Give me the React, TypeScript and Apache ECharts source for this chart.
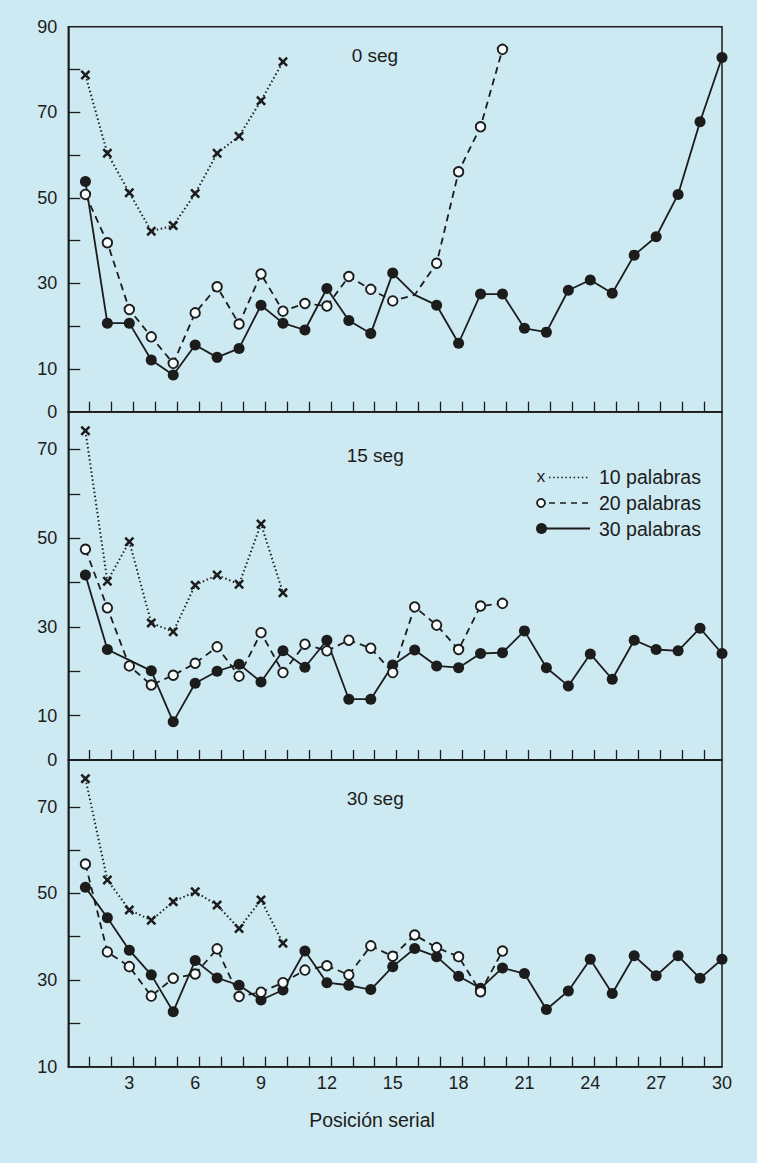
import React, { useEffect, useRef } from "react";
import * as echarts from "echarts";

// ---------- data ----------
const positions = [1, 2, 3, 4, 5, 6, 7, 8, 9, 10, 11, 12, 13, 14, 15, 16, 17, 18, 19, 20, 21, 22, 23, 24, 25, 26, 27, 28, 29, 30];
const xLabelValues = [3, 6, 9, 12, 15, 18, 21, 24, 27, 30];

const panelTitles = ["0 seg", "15 seg", "30 seg"];
const seriesNames = ["10 palabras", "20 palabras", "30 palabras"];
const axisTitle = "Posición serial";

// 0 seg
const seg0Words10 = [78.7, 60.4, 51.2, 42.2, 43.5, 51.0, 60.4, 64.4, 72.7, 81.8];
const seg0Words20 = [50.8, 39.5, 23.9, 17.5, 11.3, 23.1, 29.2, 20.5, 32.2, 23.5, 25.3, 24.7, 31.6, 28.6, 25.9, 27.3, 34.7, 56.1, 66.6, 84.7];
const seg0Words30 = [53.8, 20.7, 20.7, 12.1, 8.6, 15.6, 12.7, 14.8, 24.9, 20.7, 19.1, 28.8, 21.3, 18.3, 32.4, 27.3, 24.9, 16.0, 27.5, 27.5, 19.5, 18.6, 28.4, 30.8, 27.7, 36.6, 40.9, 50.8, 67.8, 82.8];

// 15 seg
const seg15Words10 = [74.2, 40.3, 49.2, 30.9, 28.9, 39.4, 41.7, 39.6, 53.2, 37.7];
const seg15Words20 = [47.5, 34.3, 21.2, 16.9, 19.1, 21.8, 25.5, 18.9, 28.7, 19.7, 26.1, 24.6, 27.0, 25.2, 19.7, 34.5, 30.4, 24.9, 34.7, 35.3];
const seg15Words30 = [41.7, 24.9, 22.5, 20.1, 8.6, 17.3, 20.0, 21.6, 17.6, 24.6, 20.9, 27.0, 13.7, 13.7, 21.4, 24.8, 21.2, 20.8, 24.0, 24.2, 29.1, 20.8, 16.7, 23.9, 18.2, 27.0, 24.9, 24.6, 29.7, 24.0];

// 30 seg
const seg30Words10 = [76.5, 53.1, 46.2, 43.8, 48.1, 50.4, 47.3, 41.9, 48.5, 38.5];
const seg30Words20 = [56.8, 36.5, 33.1, 26.3, 30.4, 31.4, 37.2, 26.2, 27.2, 29.4, 32.3, 33.3, 31.2, 37.9, 35.5, 40.4, 37.5, 35.4, 27.3, 36.7];
const seg30Words30 = [51.4, 44.4, 36.9, 31.2, 22.7, 34.5, 30.5, 28.8, 25.4, 27.7, 36.7, 29.4, 28.8, 27.8, 33.1, 37.3, 35.4, 30.9, 28.1, 32.8, 31.5, 23.2, 27.5, 34.8, 26.9, 35.6, 31.0, 35.6, 30.4, 34.8];

// positions printed without a marker (panel-series)
const unmarkedPositions: Record<string, number[]> = { "0-1": [16], "0-2": [16], "1-2": [3] };

// y axes
const yMin = [0, 0, 10];
const yMax = [90, 78.5, 80.8];
const yTickValues = [
  [10, 20, 30, 40, 50, 60, 70, 80],
  [10, 20, 30, 40, 50, 60, 70],
  [20, 30, 40, 50, 60, 70],
];
const yLabelValues = [
  [0, 10, 30, 50, 70, 90],
  [0, 10, 30, 50, 70],
  [10, 30, 50, 70],
];

const panelData = [
  [seg0Words10, seg0Words20, seg0Words30],
  [seg15Words10, seg15Words20, seg15Words30],
  [seg30Words10, seg30Words20, seg30Words30],
];

// ---------- styling ----------
const INK = "#1c1c1c";
const BG = "#cde9f1";
const FONT = "'Liberation Sans', Arial, Helvetica, sans-serif";
const GRID_LEFT = 68.3;
const GRID_WIDTH = 653.7;
const panelTops = [26.7, 411.7, 760];
const panelBottoms = [411.7, 760, 1066.7];
const X_SYMBOL = "path://M1.8,0L5,3.2L8.2,0L10,1.8L6.8,5L10,8.2L8.2,10L5,6.8L1.8,10L0,8.2L3.2,5L0,1.8Z";

const seriesStyles: any[] = [
  {
    symbol: X_SYMBOL,
    symbolSize: [10, 10],
    itemStyle: { color: INK },
    lineStyle: { color: "#222222", width: 2, type: [1.5, 2.6] },
  },
  {
    symbol: "circle",
    symbolSize: 9.5,
    itemStyle: { color: "#f7fcfd", borderColor: INK, borderWidth: 1.9 },
    lineStyle: { color: INK, width: 1.8, type: [7, 5] },
  },
  {
    symbol: "circle",
    symbolSize: 11,
    itemStyle: { color: INK },
    lineStyle: { color: INK, width: 1.8, type: "solid" },
  },
];

function buildOption() {
  const xTickValues = positions.slice(0, 29).map((p) => p + 0.18);
  const grid = panelTops.map((top, i) => ({
    left: GRID_LEFT,
    top,
    width: GRID_WIDTH,
    height: panelBottoms[i] - top,
    show: true,
    borderColor: INK,
    borderWidth: 1.5,
    backgroundColor: "transparent",
  }));
  const xAxis = panelTops.map((_, i) => ({
    type: "value",
    gridIndex: i,
    min: 0.22,
    max: 30,
    axisLine: { show: true, lineStyle: { color: INK, width: 1.5 } },
    axisTick: { show: true, inside: true, length: 10, customValues: xTickValues, lineStyle: { color: INK, width: 1.3 } },
    axisLabel: {
      show: i === 2,
      customValues: xLabelValues,
      fontSize: 18,
      color: INK,
      fontFamily: FONT,
      margin: 7,
    },
    splitLine: { show: false },
  }));
  const yAxis = panelTops.map((_, i) => ({
    type: "value",
    gridIndex: i,
    min: yMin[i],
    max: yMax[i],
    axisLine: { show: true, lineStyle: { color: INK, width: 1.5 } },
    axisTick: { show: true, inside: true, length: 12, customValues: yTickValues[i], lineStyle: { color: INK, width: 1.3 } },
    axisLabel: {
      customValues: yLabelValues[i],
      fontSize: 18,
      color: INK,
      fontFamily: FONT,
      margin: 11,
    },
    splitLine: { show: false },
  }));

  const series: any[] = [];
  panelData.forEach((sets, panel) => {
    [2, 1, 0].forEach((kind) => {
      const hidden = unmarkedPositions[`${panel}-${kind}`] || [];
      series.push({
        type: "line",
        name: seriesNames[kind],
        xAxisIndex: panel,
        yAxisIndex: panel,
        clip: false,
        z: 2 + (2 - kind),
        data: sets[kind].map((v, idx) => {
          const p = positions[idx];
          return hidden.includes(p) ? { value: [p, v], symbol: "none" } : [p, v];
        }),
        ...seriesStyles[kind],
      });
    });
  });

  const txt = (text: string, x: number, y: number, fontSize: number, align = "left") => ({
    type: "text",
    x,
    y,
    style: { text, fontSize, fontFamily: FONT, fill: INK, align, verticalAlign: "middle" },
  });

  const legendX = 541;
  const legendRows = [477, 503, 528.5];
  const graphic: any[] = [
    txt(panelTitles[0], 351.7, 55, 19),
    txt(panelTitles[1], 346.7, 455, 19),
    txt(panelTitles[2], 346.7, 798.3, 19),
    txt(axisTitle, 372, 1120, 19.5, "center"),
    // legend
    txt("x", legendX, legendRows[0] - 1, 17, "center"),
    { type: "line", shape: { x1: 549, y1: legendRows[0] + 0.5, x2: 590, y2: legendRows[0] + 0.5 }, style: { stroke: INK, lineWidth: 1.4, lineDash: [1.5, 2.6] } },
    txt(seriesNames[0], 599, legendRows[0], 19.5),
    { type: "circle", shape: { cx: legendX, cy: legendRows[1], r: 4 }, style: { fill: "#f7fcfd", stroke: INK, lineWidth: 1.8 } },
    { type: "line", shape: { x1: 549, y1: legendRows[1], x2: 590, y2: legendRows[1] }, style: { stroke: INK, lineWidth: 1.6, lineDash: [6, 5] } },
    txt(seriesNames[1], 599, legendRows[1], 19.5),
    { type: "circle", shape: { cx: legendX + 0.5, cy: legendRows[2], r: 5.5 }, style: { fill: INK } },
    { type: "line", shape: { x1: 545, y1: legendRows[2], x2: 590, y2: legendRows[2] }, style: { stroke: INK, lineWidth: 1.8 } },
    txt(seriesNames[2], 599, legendRows[2], 19.5),
  ];

  return {
    animation: false,
    backgroundColor: BG,
    textStyle: { fontFamily: FONT },
    grid,
    xAxis,
    yAxis,
    series,
    graphic,
  };
}

export default function App() {
  const ref = useRef<HTMLDivElement>(null);
  useEffect(() => {
    if (!ref.current) return;
    const chart = echarts.init(ref.current, undefined, { renderer: "svg" });
    chart.setOption(buildOption() as any);
    return () => chart.dispose();
  }, []);
  return (
    <div
      ref={ref}
      style={{ position: "absolute", left: 0, top: 0, width: 757, height: 1163, background: BG }}
    />
  );
}
